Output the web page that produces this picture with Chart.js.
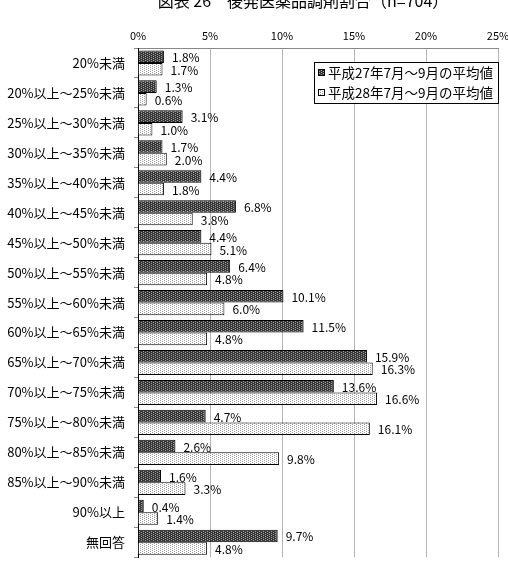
<!DOCTYPE html>
<html>
<head>
<meta charset="utf-8">
<script src="https://cdn.jsdelivr.net/npm/chart.js@4"></script>
<style>
  html, body { margin: 0; padding: 0; background: #fff; }
  #wrap { width: 508px; height: 574px; }
</style>
</head>
<body>
<div id="wrap"><canvas id="chart" width="508" height="574"></canvas></div>
<script>
const titleText = "図表 26　後発医薬品調剤割合（n=704）";
const categories = [
  "20%未満", "20%以上～25%未満", "25%以上～30%未満", "30%以上～35%未満",
  "35%以上～40%未満", "40%以上～45%未満", "45%以上～50%未満", "50%以上～55%未満",
  "55%以上～60%未満", "60%以上～65%未満", "65%以上～70%未満", "70%以上～75%未満",
  "75%以上～80%未満", "80%以上～85%未満", "85%以上～90%未満", "90%以上", "無回答"
];
const seriesNames = ["平成27年7月～9月の平均値", "平成28年7月～9月の平均値"];
const valuesH27 = [1.8, 1.3, 3.1, 1.7, 4.4, 6.8, 4.4, 6.4, 10.1, 11.5, 15.9, 13.6, 4.7, 2.6, 1.6, 0.4, 9.7];
const valuesH28 = [1.7, 0.6, 1.0, 2.0, 1.8, 3.8, 5.1, 4.8, 6.0, 4.8, 16.3, 16.6, 16.1, 9.8, 3.3, 1.4, 4.8];
const xTicks = [0, 5, 10, 15, 20, 25];

const font = "'Noto Sans CJK JP', 'DejaVu Sans', sans-serif";

// 網掛けパターン
const makePattern = (bg, fg, dots) => {
  const c = document.createElement("canvas");
  c.width = 4;
  c.height = 4;
  const g = c.getContext("2d");
  g.fillStyle = bg;
  g.fillRect(0, 0, 4, 4);
  g.fillStyle = fg;
  dots.forEach(([x, y]) => g.fillRect(x, y, 1, 1));
  return g.createPattern(c, "repeat");
};
const ctx = document.getElementById("chart").getContext("2d");
const darkFill = makePattern("#383838", "#9c9c9c", [[1, 0], [3, 1], [1, 2], [3, 3]]);
const lightFill = makePattern("#ffffff", "#9a9a9a", [[0, 0], [2, 1], [0, 2], [2, 3]]);
const fills = [darkFill, lightFill];

// タイトル・凡例・数値ラベル
const decorations = {
  id: "decorations",
  afterDatasetsDraw(chart) {
    const c = chart.ctx;
    c.save();
    c.fillStyle = "#000";
    c.font = "16px " + font;
    c.textAlign = "center";
    c.textBaseline = "middle";
    c.fillText(titleText, 303, 1);

    c.font = "12px " + font;
    c.textAlign = "left";
    chart.data.datasets.forEach((ds, i) => {
      chart.getDatasetMeta(i).data.forEach((bar, j) => {
        c.fillText(ds.data[j].toFixed(1) + "%", bar.x + 8, bar.y + 1);
      });
    });

    // 凡例
    c.fillStyle = "#fff";
    c.fillRect(314, 62, 184, 41);
    c.strokeStyle = "#000";
    c.lineWidth = 1;
    c.strokeRect(314.5, 62.5, 184, 41);
    c.font = "13.5px " + font;
    seriesNames.forEach((name, i) => {
      const y = 73 + i * 20;
      c.fillStyle = fills[i];
      c.fillRect(318, y - 4, 7, 7);
      c.strokeRect(318.5, y - 3.5, 6, 6);
      c.fillStyle = "#000";
      c.fillText(name, 328, y);
    });
    c.restore();
  }
};

new Chart(ctx, {
  type: "bar",
  data: {
    labels: categories,
    datasets: [
      { label: seriesNames[0], data: valuesH27, backgroundColor: darkFill, borderColor: "#000", borderWidth: 1 },
      { label: seriesNames[1], data: valuesH28, backgroundColor: lightFill, borderColor: "#000", borderWidth: 1 }
    ]
  },
  options: {
    indexAxis: "y",
    responsive: false,
    animation: false,
    categoryPercentage: 0.84,
    barPercentage: 1.0,
    layout: { padding: { top: 18, right: 10, bottom: 14, left: 4 } },
    plugins: {
      legend: { display: false },
      title: { display: false },
      tooltip: { enabled: false }
    },
    scales: {
      x: {
        position: "top",
        min: 0,
        max: 25,
        afterBuildTicks: (scale) => { scale.ticks = xTicks.map((v) => ({ value: v })); },
        afterFit: (scale) => {
          scale.height = 30;
          scale.paddingLeft = 0;
          scale.paddingRight = 0;
        },
        ticks: {
          callback: (v) => v + "%",
          color: "#000",
          font: { family: font, size: 11 },
          padding: 6,
          maxRotation: 0
        },
        grid: { color: "#b4b4b4", drawTicks: false },
        border: { display: true, color: "#888" }
      },
      y: {
        afterFit: (scale) => { scale.width = 134; },
        ticks: {
          color: "#000",
          font: { family: font, size: 13 },
          padding: 9
        },
        grid: { display: true, offset: true, drawOnChartArea: false, tickLength: 4, color: "#888" },
        border: { display: true, color: "#000" }
      }
    }
  },
  plugins: [decorations]
});
</script>
</body>
</html>
